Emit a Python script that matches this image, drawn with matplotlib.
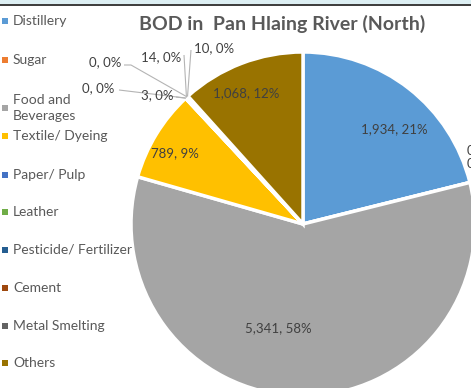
import numpy as np
import matplotlib
matplotlib.use('Agg')
import matplotlib.pyplot as plt
from matplotlib.patches import Rectangle

plt.rcParams['font.family'] = ['Lato', 'DejaVu Sans']

# BOD load by source (pie data)
categories = ['Distillery', 'Sugar', 'Food and\nBeverages', 'Textile/ Dyeing', 'Paper/ Pulp',
              'Leather', 'Pesticide/ Fertilizer', 'Cement', 'Metal Smelting', 'Others']
values = [1934, 0, 5341, 789, 3, 0, 14, 0, 10, 1068]
colors = ['#5B9BD5', '#ED7D31', '#A5A5A5', '#FFC000', '#4472C4',
          '#70AD47', '#255E91', '#9E480E', '#636363', '#997300']

W, H = 471, 388
fig = plt.figure(figsize=(W / 100, H / 100), dpi=100)
ax = fig.add_axes([0, 0, 1, 1])

# work in pixel coords measured from the top
def py(y):
  return H - y

cx, cy, rad = 303, 224, 172
wedges, _ = ax.pie(values, colors=colors, startangle=90, counterclock=False,
                   center=(cx, py(cy)), radius=rad,
                   wedgeprops=dict(edgecolor='white', linewidth=2.5))
ax.set_xlim(0, W)
ax.set_ylim(0, H)
ax.set_aspect('equal')
ax.set_axis_off()

total = float(sum(values))
def lab(v):
  return '{:,}, {:.0f}%'.format(v, 100 * v / total)

def edge_pt(i):
  w = wedges[i]
  a = np.deg2rad((w.theta1 + w.theta2) / 2)
  return cx + rad * np.cos(a), py(cy) + rad * np.sin(a)

lblc = '#404040'
fs = 9.5
# labels inside big slices
inner = {0: (394, 129), 2: (278, 328), 3: (175, 153), 9: (246, 93)}
for i, (x, y) in inner.items():
  ax.text(x, py(y), lab(values[i]), ha='center', va='center', fontsize=fs, color=lblc)

# sugar label sits at the right edge, wrapped
ax.text(467, py(157), '{:,},\n{:.0f}%'.format(values[1], 100 * values[1] / total),
        ha='left', va='center', fontsize=fs, color=lblc, linespacing=1.2)

# small slices with leader lines
outer = {4: ((157, 95), [(176, 97)]),
         5: ((98, 88), [(119, 90)]),
         6: ((161, 57), [(184, 55)]),
         7: ((105, 62), [(124, 65), (131, 65)]),
         8: ((214, 48), [(191, 50)])}
for i, ((x, y), pts) in outer.items():
  ax.text(x, py(y), lab(values[i]), ha='center', va='center', fontsize=fs, color=lblc)
  ex, ey = edge_pt(i)
  xs = [p[0] for p in pts] + [ex]
  ys = [py(p[1]) for p in pts] + [ey]
  ax.plot(xs, ys, color='#b4b4b4', lw=0.8, solid_capstyle='butt')

# title
ax.text(282, py(24), 'BOD in  Pan Hlaing River (North)', ha='center', va='center',
        fontsize=14, fontweight='bold', color='#595959')

# legend on the left
leg_y = [21, 60, 108, 136, 175, 212, 250, 288, 326, 363]
for c, name, y in zip(colors, categories, leg_y):
  ax.add_patch(Rectangle((2, py(y) - 3), 6, 6, color=c, lw=0))
  if '\n' in name:
    ax.text(13, py(y), name, ha='left', va='center', fontsize=10, color='#595959',
            linespacing=1.4)
  else:
    ax.text(13, py(y), name, ha='left', va='center', fontsize=10, color='#595959')

# top band
fig.patches.append(Rectangle((0, 1 - 4 / H), 1, 4 / H, transform=fig.transFigure,
                             color='#DDEFF3', lw=0))
fig.patches.append(Rectangle((0, 1 - 6 / H), 1, 1.6 / H, transform=fig.transFigure,
                             color='#404040', lw=0))

fig.savefig('out.png', dpi=100)
